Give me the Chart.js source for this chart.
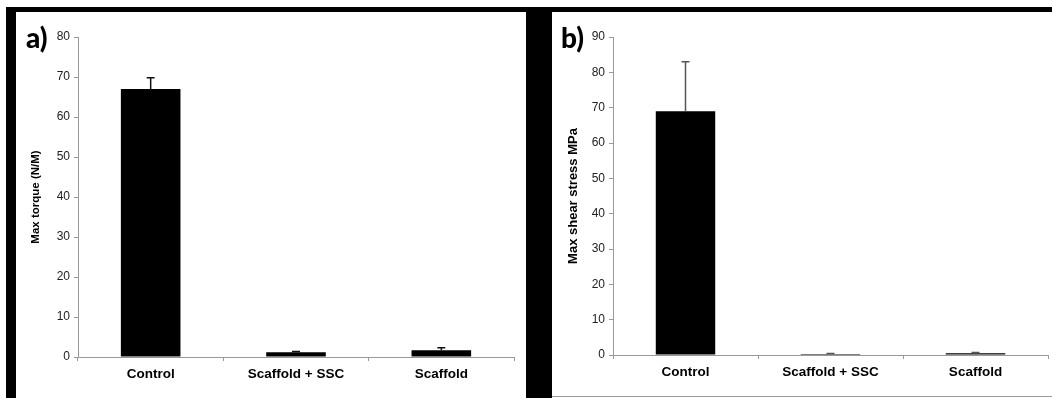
<!DOCTYPE html>
<html>
<head>
<meta charset="utf-8">
<script src="https://cdn.jsdelivr.net/npm/chart.js@4.4.1/dist/chart.umd.min.js"></script>
<style>
  html, body { margin: 0; padding: 0; background: #fff; }
  body { width: 1052px; height: 398px; position: relative; overflow: hidden; }
  .bar { position: absolute; background: #000; }
  .panel { position: absolute; background: #fff; }
  .tag { position: absolute; font-family: Lato, sans-serif; font-weight: 900; font-size: 28px; color: #000; line-height: 1; }
</style>
</head>
<body>
<div class="bar" style="left:6px; top:7px; width:1046px; height:5px;"></div>
<div class="bar" style="left:6px; top:7px; width:10px; height:391px;"></div>
<div class="bar" style="left:526px; top:7px; width:26px; height:391px;"></div>
<div style="position:absolute; left:552px; top:396px; width:500px; height:1px; background:#999;"></div>

<div class="panel" style="left:16px; top:12px; width:510px; height:386px;">
  <canvas id="torqueChart" width="510" height="386"></canvas>
</div>
<div class="panel" style="left:552px; top:12px; width:500px; height:384px;">
  <canvas id="shearChart" width="500" height="384"></canvas>
</div>
<div class="tag" style="left:26px; top:23px;">a)</div>
<div class="tag" style="left:561px; top:23px;">b)</div>

<script>
const categories = ['Control', 'Scaffold + SSC', 'Scaffold'];

const torqueMeans = [67, 1.2, 1.7];
const torqueErrors = [2.8, 0.2, 0.6];
const torqueMax = 80;

const shearMeans = [69, 0.3, 0.5];
const shearErrors = [14, 0.1, 0.2];
const shearMax = 90;

const tickStep = 10;

const errorBars = {
    id: 'errorBars',
    afterDatasetsDraw(chart, args, opts) {
        const ctx = chart.ctx;
        const yScale = chart.scales.y;
        const meta = chart.getDatasetMeta(0);
        const means = chart.data.datasets[0].data;
        ctx.save();
        ctx.strokeStyle = opts.color;
        ctx.lineWidth = opts.width;
        meta.data.forEach((bar, i) => {
            const top = yScale.getPixelForValue(means[i] + opts.errors[i]);
            ctx.beginPath();
            ctx.moveTo(bar.x, bar.y);
            ctx.lineTo(bar.x, top);
            ctx.moveTo(bar.x - 4, top);
            ctx.lineTo(bar.x + 4, top);
            ctx.stroke();
        });
        ctx.restore();
    }
};

function makeChart(id, means, errors, max, title, titleSize, titlePad, yWidth, rightPad, errColor) {
    return new Chart(document.getElementById(id).getContext('2d'), {
        type: 'bar',
        data: {
            labels: categories,
            datasets: [{
                data: means,
                backgroundColor: '#000',
                borderWidth: 0,
                barPercentage: 0.41,
                categoryPercentage: 1
            }]
        },
        options: {
            responsive: false,
            animation: false,
            devicePixelRatio: 1,
            layout: { padding: { top: 25, right: rightPad, left: 0, bottom: 0 } },
            plugins: {
                legend: { display: false },
                tooltip: { enabled: false },
                errorBars: { errors: errors, color: errColor, width: 1.5 }
            },
            scales: {
                x: {
                    afterFit: s => { s.height = 41; },
                    border: { display: true, color: '#999', width: 1 },
                    grid: { display: true, drawOnChartArea: false, drawTicks: true, tickLength: 4, color: '#999', offset: true },
                    ticks: {
                        color: '#000',
                        padding: 5,
                        font: { family: 'Liberation Sans, Arial, sans-serif', size: 13.5, weight: 'bold' }
                    }
                },
                y: {
                    min: 0,
                    max: max,
                    afterFit: s => { s.width = yWidth; },
                    border: { display: true, color: '#999', width: 1 },
                    grid: { display: true, drawOnChartArea: false, drawTicks: true, tickLength: 4, color: '#999' },
                    ticks: {
                        stepSize: tickStep,
                        color: '#222',
                        padding: 4,
                        font: { family: 'Liberation Sans, Arial, sans-serif', size: 12 }
                    },
                    title: {
                        display: true,
                        text: title,
                        color: '#000',
                        padding: { top: titlePad, bottom: 0 },
                        font: { family: 'Liberation Sans, Arial, sans-serif', size: titleSize, weight: 'bold' }
                    }
                }
            }
        },
        plugins: [errorBars]
    });
}

makeChart('torqueChart', torqueMeans, torqueErrors, torqueMax, 'Max torque (N/M)', 11.5, 13, 62, 12, '#111');
makeChart('shearChart', shearMeans, shearErrors, shearMax, 'Max shear stress MPa', 13, 14, 61, 4, '#555');
</script>
</body>
</html>
